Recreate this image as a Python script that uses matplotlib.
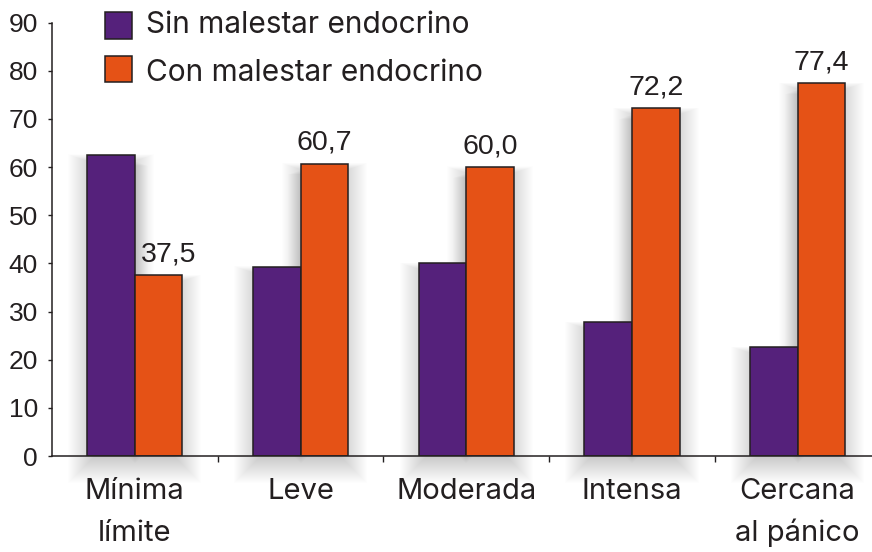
import numpy as np
import matplotlib
matplotlib.use("Agg")
import matplotlib.pyplot as plt
from matplotlib.patches import Rectangle, Polygon

plt.rcParams['font.family'] = ['Liberation Sans', 'DejaVu Sans']
WORD_FONT = ['Inter', 'Liberation Sans', 'DejaVu Sans']

# Data
categories = ["Mínima\nlímite", "Leve", "Moderada", "Intensa", "Cercana\nal pánico"]
sin_malestar = [62.5, 39.3, 40.0, 27.8, 22.6]
con_malestar = [37.5, 60.7, 60.0, 72.2, 77.4]
series_names = ["Sin malestar endocrino", "Con malestar endocrino"]
value_labels = ["37,5", "60,7", "60,0", "72,2", "77,4"]
yticks = [0, 10, 20, 30, 40, 50, 60, 70, 80, 90]

PURPLE = "#55217B"
ORANGE = "#E55216"
INK = "#231F20"

W, H = 872, 552
fig = plt.figure(figsize=(W / 100, H / 100), dpi=100)
ax_left, ax_bottom, ax_top = 52, 456, 22.7
ax = fig.add_axes([ax_left / W, (H - ax_bottom) / H, (W - ax_left) / W, (ax_bottom - ax_top) / H])

x = np.arange(len(categories))
bw = 0.287
px_x = 165.7                              # pixels per category step
px_y = (ax_bottom - ax_top) / 90.0        # pixels per unit of value
xmin, xmax = -0.5, -0.5 + (W - ax_left) / px_x
ymin, ymax = 0, 90


def group_outline(left, a, b, ex, ey, base):
    """Outline of the two bars of one group, grown by ex/ey (data units)."""
    x0, x1, x2, x3 = left - ex, left + bw - ex, left + bw + ex, left + 2 * bw + ex
    ta, tb = a + ey, b + ey
    if ex <= 0:
        return [[(x0, base), (x0, ta), (x1, ta), (x1, base)],
                [(x2, base), (x2, tb), (x3, tb), (x3, base)]]
    m = max(ta, tb)
    return [[(x0, base), (x0, ta), (x1, ta), (x1, m), (x2, m), (x2, tb),
             (x3, tb), (x3, base)]]


# Soft drop shadow: stacked translucent outlines, one pixel apart
shadow_drop = 8.0
for xi, a, b in zip(x, sin_malestar, con_malestar):
    for r in range(19, -14, -1):
        ex = r / px_x
        ey = (0.35 * r - 6) / px_y
        base = -(shadow_drop + r) / px_y
        for pts in group_outline(xi - bw, a, b, ex, ey, base):
            ax.add_patch(Polygon(pts, closed=True, facecolor="black",
                                 edgecolor="none", alpha=0.0085, zorder=0.5,
                                 clip_on=False))

ax.bar(x - bw / 2, sin_malestar, bw, color=PURPLE, edgecolor=INK, linewidth=1.1, zorder=2)
ax.bar(x + bw / 2, con_malestar, bw, color=ORANGE, edgecolor=INK, linewidth=1.1, zorder=2)

for xi, a, v, lab in zip(x, sin_malestar, con_malestar, value_labels):
    # nudge the label right when the neighbouring bar is taller
    dx = 7 if a > v else 0
    ax.annotate(lab, (xi + bw / 2, v), xytext=(dx, 10), textcoords="offset points",
                ha="center", va="baseline", fontsize=20.5, color=INK)

ax.set_xlim(xmin, xmax)
ax.set_ylim(ymin, ymax)
ax.set_yticks(yticks)
ax.tick_params(axis="y", direction="out", length=3, width=1.0, colors=INK,
               labelsize=19, pad=7)
ax.set_xticks(x[:-1] + 0.5)
ax.set_xticklabels([])
ax.tick_params(axis="x", direction="out", length=4, width=1.0, colors=INK)
for s in ("top", "right"):
    ax.spines[s].set_visible(False)
for s in ("left", "bottom"):
    ax.spines[s].set_color(INK)
    ax.spines[s].set_linewidth(1.1)
    ax.spines[s].set_zorder(3)

# Category labels, one line at a time
for xi, cat in zip(x, categories):
    for j, line in enumerate(cat.split("\n")):
        ax.annotate(line, (xi, 0), xycoords=("data", "axes fraction"),
                    xytext=(0, -31 - 30.5 * j), textcoords="offset points",
                    ha="center", va="baseline", fontsize=21, color=INK,
                    family=WORD_FONT, annotation_clip=False)

# Legend
for (yt, yb, tb), col, name in zip([(12, 39, 33), (56, 82, 81)], [PURPLE, ORANGE], series_names):
    fig.add_artist(Rectangle((105 / W, 1 - yb / H), 27 / W, (yb - yt) / H,
                             transform=fig.transFigure, facecolor=col,
                             edgecolor=INK, linewidth=1.1))
    fig.text(146 / W, 1 - tb / H, name, fontsize=21.5, color=INK, ha="left",
             va="baseline", family=WORD_FONT)

fig.savefig("out.png", dpi=100)
